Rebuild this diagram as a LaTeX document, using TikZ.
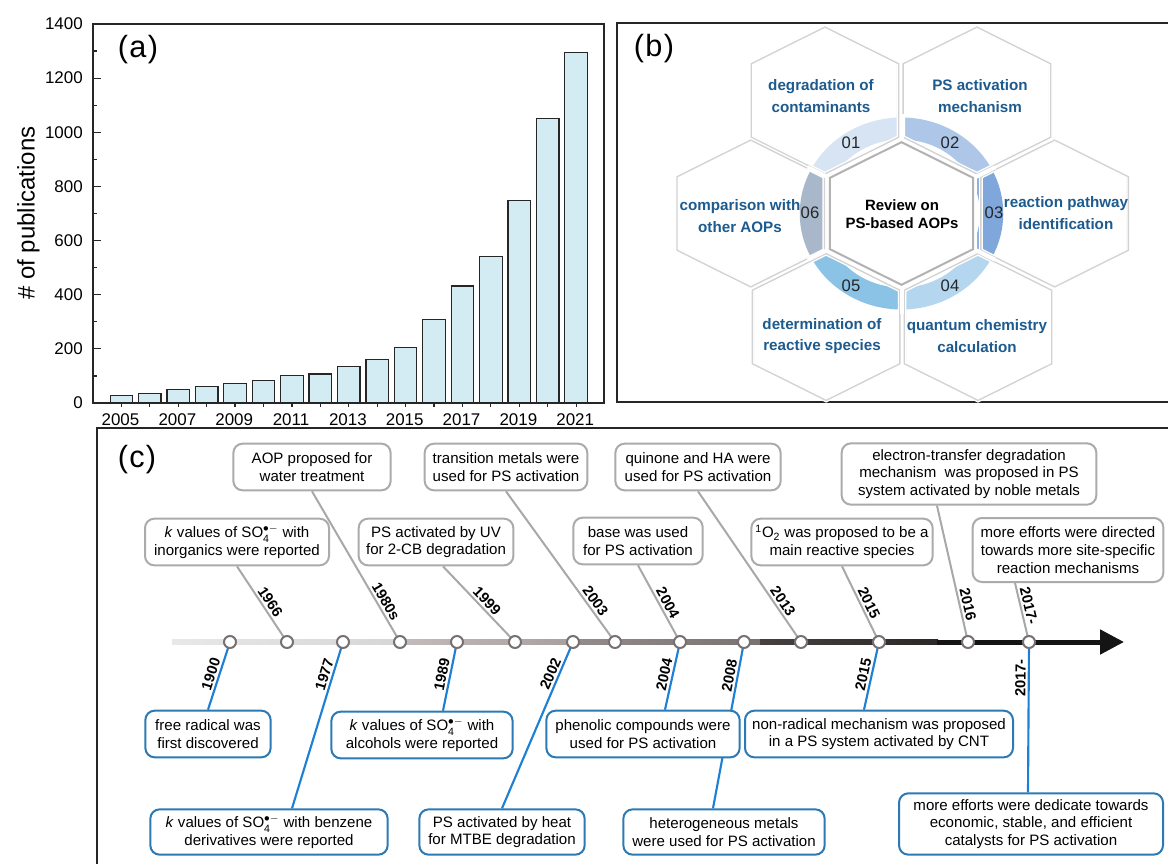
\documentclass[tikz,border=0pt]{standalone}
\usepackage{fontspec}
\setmainfont{Liberation Sans}
\usepackage{amsmath}
\usetikzlibrary{shapes.geometric, arrows.meta, positioning, backgrounds, shadows}

\definecolor{barfill}{HTML}{D3EBF3}
\definecolor{hexblue}{HTML}{1D5B8E}
\definecolor{seg01}{HTML}{D6E4F4}
\definecolor{seg02}{HTML}{AEC7E8}
\definecolor{seg03}{HTML}{7FA7DB}
\definecolor{seg04}{HTML}{B5D6EF}
\definecolor{seg05}{HTML}{8BC3E7}
\definecolor{seg06}{HTML}{A8B7CA}
\definecolor{boxgray}{HTML}{ABABAB}
\definecolor{boxblue}{HTML}{2B79B5}
\definecolor{linkgray}{HTML}{A8A8A8}
\definecolor{linkblue}{HTML}{1E80D4}
\definecolor{dotgray}{HTML}{777171}

\newcommand{\sofour}{SO$_{\text{4}}^{\bullet-}$}

\begin{document}
\begin{tikzpicture}[
    x=0.75pt, y=-0.75pt,
    >=Stealth,
    txt/.style={font=\fontsize{11.3}{13.3}\selectfont},
    tick/.style={font=\fontsize{12.7}{14}\selectfont},
    panel/.style={font=\fontsize{23}{25}\selectfont},
    bar/.style={draw=black!85, line width=0.9pt, fill=barfill},
    frame/.style={draw=black!85, line width=1.2pt},
    hexcell/.style={regular polygon, regular polygon sides=6, shape border rotate=30, minimum size=108.75pt, inner sep=0pt, draw=gray!30, line width=1.2pt, fill=white, drop shadow={shadow xshift=1.2pt, shadow yshift=-1.2pt, opacity=0.2}},
    hexline/.style={draw=gray!35, line width=1pt, preaction={draw=white, line width=3pt}},
    hubcell/.style={regular polygon, regular polygon sides=6, shape border rotate=30, minimum size=107pt, inner sep=0pt, draw=gray!60, line width=1.5pt, fill=white, preaction={draw=white, line width=6pt}},
    hexlabel/.style={align=center, text=hexblue, font=\fontsize{11.4}{16.3}\selectfont\bfseries},
    segnum/.style={font=\fontsize{12.5}{14}\selectfont, text=black!85},
    dot/.style={circle, draw=dotgray, line width=1.5pt, fill=white, minimum size=9pt, inner sep=0pt},
    topbox/.style={rectangle, draw=boxgray, line width=1.5pt, rounded corners=7pt, fill=white, align=center, txt, minimum height=35pt, inner xsep=3pt, inner ysep=3pt},
    botbox/.style={topbox, draw=boxblue},
    toplink/.style={draw=linkgray, line width=1.5pt},
    botlink/.style={draw=linkblue, line width=1.6pt},
    yr/.style={sloped, above, inner sep=1.5pt, font=\fontsize{11}{12}\selectfont\bfseries}
]
\useasboundingbox (0,0) rectangle (1168,864);
\clip (0,0) rectangle (1168,864);

% (a) publications per year
\foreach \val [count=\i from 0] in {28,36,50,62,72,83,102,107,135,161,204,309,432,540,747,1051,1295}
  \draw[bar] ({110.15+28.42*\i},403) rectangle ({132.65+28.42*\i},{403-0.2707*\val});
\draw[frame] (93,24) rectangle (604,403);
\foreach \val in {0,200,...,1400}
  \draw[frame, line width=0.9pt] (93,{403-0.2707*\val}) -- (100.5,{403-0.2707*\val});
\foreach \val in {0,200,...,1400}
  \node[tick, left, inner sep=7.5pt] (ytick\val) at (93,{403-0.2707*\val}) {\val};
\foreach \val in {100,300,...,1300}
  \draw[frame, line width=0.9pt] (93,{403-0.2707*\val}) -- (96.5,{403-0.2707*\val});
\foreach \i in {0,...,16}
  \draw[frame, line width=0.9pt] ({121.4+28.42*\i},403) -- ({121.4+28.42*\i},406.5);
\foreach \yr [count=\i from 0] in {2005,2007,...,2021}
  \node[tick] (yr\yr) at ({120.5+56.84*\i},420) {\yr};
\node[font=\fontsize{18}{20}\selectfont, rotate=90] (ylab) at (28.5,213) {\# of publications};
\node[panel] (pa) at (138,50) {(\kern1pt a\kern1pt)};

% (b) review topics
\draw[frame, line width=1.5pt] (617,23) rectangle (1180,402);
\node[panel] (pb) at (654,49) {(\kern1pt b\kern1pt)};
\begin{scope}[shift={(901.5,213.5)}, xscale=1.16, transform shape]
  \node[hexcell] (hTL) at (-66,-113) {};
  \node[hexcell] (hTR) at (65,-113) {};
  \node[hexcell] (hR) at (132,0) {};
  \node[hexcell] (hBR) at (66,113.5) {};
  \node[hexcell] (hBL) at (-65,113.5) {};
  \node[hexcell] (hL) at (-130,0) {};
\end{scope}
\begin{scope}[shift={(901.5,213.5)}, xscale=1.06, yscale=-1]
  \foreach \a/\b/\c in {90/152.4/seg01,27.6/90/seg02,-27.6/27.6/seg03,-90/-27.6/seg04,-152.4/-90/seg05,152.4/207.6/seg06}
    \fill[\c] (\a:74) arc[start angle=\a, end angle=\b, radius=74] -- (\b:96) arc[start angle=\b, end angle=\a, radius=96] -- cycle;
\end{scope}
\foreach \h in {hTL,hTR,hR,hBR,hBL,hL}
  \draw[hexline] (\h.corner 1) -- (\h.corner 2) -- (\h.corner 3) -- (\h.corner 4) -- (\h.corner 5) -- (\h.corner 6) -- cycle;
\begin{scope}[shift={(901.5,213.5)}, xscale=1.06, yscale=-1]
  \foreach \a in {90,27.6,-27.6,-90,-152.4,152.4}
    \draw[white, line width=3pt] (0,0) -- (\a:100);
\end{scope}
\begin{scope}[shift={(901.5,213.5)}, xscale=1.16, transform shape]
  \node[hubcell] (hub) at (0,0) {};
\end{scope}
\node[align=center, font=\fontsize{11.2}{13.8}\selectfont\bfseries] (hubtext) at (902,214) {Review on\\PS-based AOPs};
\node[segnum] (n01) at (851,143) {01};
\node[segnum] (n02) at (950,143) {02};
\node[segnum] (n03) at (994,213) {03};
\node[segnum] (n04) at (950,286) {04};
\node[segnum] (n05) at (851,286) {05};
\node[segnum] (n06) at (810,213) {06};
\node[hexlabel] (lTL) at (821,96) {degradation of\\contaminants};
\node[hexlabel] (lTR) at (980,96) {PS activation\\mechanism};
\node[hexlabel] (lR) at (1066,213) {reaction pathway\\identification};
\node[hexlabel] (lBR) at (977,336) {quantum chemistry\\calculation};
\node[hexlabel] (lBL) at (822,336) {determination of\\reactive species};
\node[hexlabel] (lL) at (740,216) {comparison with\\other AOPs};

% (c) timeline
\draw[frame, line width=1.5pt] (97,428) rectangle (1180,880);
\node[panel] (pc) at (137,460) {(\kern1pt c\kern1pt)};

% Dots
\node[dot] (d1900) at (230,642) {};
\node[dot] (d1966) at (287,642) {};
\node[dot] (d1977) at (343,642) {};
\node[dot] (d1980) at (400,642) {};
\node[dot] (d1989) at (457,642) {};
\node[dot] (d1999) at (515,642) {};
\node[dot] (d2002) at (573,642) {};
\node[dot] (d2003) at (615,642) {};
\node[dot] (d2004) at (680,642) {};
\node[dot] (d2008) at (744,642) {};
\node[dot] (d2013) at (801,642) {};
\node[dot] (d2015) at (879,642) {};
\node[dot] (d2016) at (968,642) {};
\node[dot] (d2017) at (1029,642) {};

% Upper boxes
\node[topbox, minimum width=138pt] (t1) at (237,542) {\textit{k} values of \sofour{} with\\inorganics were reported};
\node[topbox, minimum width=118pt] (t2) at (312,467) {AOP proposed for\\water treatment};
\node[topbox, minimum width=116pt] (t3) at (436,542) {PS activated by UV\\for 2-CB degradation};
\node[topbox, minimum width=122pt] (t4) at (506,467) {transition metals were\\used for PS activation};
\node[topbox, minimum width=97pt] (t5) at (638,541) {base was used\\for PS activation};
\node[topbox, minimum width=124pt] (t6) at (698,467) {quinone and HA were\\used for PS activation};
\node[topbox, minimum width=136pt] (t7) at (842,542) {\textsuperscript{1}O\textsubscript{2} was proposed to be a\\main reactive species};
\node[topbox, minimum width=191pt, minimum height=46pt] (t8) at (969,474) {electron-transfer degradation\\mechanism\ \ was proposed in PS\\system activated by noble metals};
\node[topbox, minimum width=143pt, minimum height=48pt] (t9) at (1068,550) {more efforts were directed\\towards more site-specific\\reaction mechanisms};

% Lower boxes
\node[botbox, minimum width=94pt] (b1) at (208,734) {free radical was\\first discovered};
\node[botbox, minimum width=178pt, minimum height=34pt] (b2) at (269,832) {\textit{k} values of \sofour{} with benzene\\derivatives were reported};
\node[botbox, minimum width=136pt] (b3) at (422,735) {\textit{k} values of \sofour{} with\\alcohols were reported};
\node[botbox, minimum width=124pt, minimum height=34pt] (b4) at (502,832) {PS activated by heat\\for MTBE degradation};
\node[botbox, minimum width=145pt] (b5) at (643,734) {phenolic compounds were\\used for PS activation};
\node[botbox, minimum width=151pt, minimum height=34pt] (b6) at (724,832) {heterogeneous metals\\were used for PS activation};
\node[botbox, minimum width=201pt] (b7) at (879,734) {non-radical mechanism was proposed\\in a PS system activated by CNT};
\node[botbox, minimum width=198pt, minimum height=46pt] (b8) at (1031,824) {more efforts were dedicate towards\\economic, stable, and efficient\\catalysts for PS activation};

\begin{scope}[on background layer]
  % Axis
  \shade[left color=gray!18, right color=gray!32] (172,639.5) rectangle (397,644.5);
  \shade[left color={rgb,255:red,196;green,188;blue,188}, right color={rgb,255:red,168;green,160;blue,160}] (397,639.5) rectangle (572,644.5);
  \shade[left color={rgb,255:red,148;green,140;blue,140}, right color={rgb,255:red,120;green,114;blue,114}] (572,639.5) rectangle (760,644.5);
  \shade[left color={rgb,255:red,70;green,64;blue,64}, right color={rgb,255:red,44;green,40;blue,40}] (760,639.5) rectangle (938,644.5);
  \draw[line width=3.75pt, black!92, -{Triangle[length=18pt, width=18pt]}] (937,642) -- (1124,642);

  % Upper links
  \draw[toplink] (t1.south) -- (d1966.center) node[yr, pos=0.53] {1966};
  \draw[toplink] (t2.south) -- (d1980.center) node[yr, pos=0.76] {1980s};
  \draw[toplink] (443,0 |- t3.south) -- (d1999.center) node[yr, pos=0.53] {1999};
  \draw[toplink] (t4.south) -- (d2003.center) node[yr, pos=0.76] {2003};
  \draw[toplink] (t5.south) -- (d2004.center) node[yr, pos=0.54] {2004};
  \draw[toplink] (t6.south) -- (d2013.center) node[yr, pos=0.76] {2013};
  \draw[toplink] (t7.south) -- (d2015.center) node[yr, pos=0.53] {2015};
  \draw[toplink] (937,0 |- t8.south) -- (d2016.center) node[yr, pos=0.74] {2016};
  \draw[toplink] (1015,0 |- t9.south) -- (d2017.center) node[yr, pos=0.42] {2017-};

  % Lower links
  \draw[botlink] (b1.north) -- (d1900.center) node[yr, pos=0.49] {1900};
  \draw[botlink] (292,0 |- b2.north) -- (d1977.center) node[yr, pos=0.79] {1977};
  \draw[botlink] (443,0 |- b3.north) -- (d1989.center) node[yr, pos=0.5] {1989};
  \draw[botlink] (b4.north) -- (d2002.center) node[yr, pos=0.79] {2002};
  \draw[botlink] (665,0 |- b5.north) -- (d2004.center) node[yr, pos=0.49] {2004};
  \draw[botlink] (713,0 |- b6.north) -- (d2008.center) node[yr, pos=0.79] {2008};
  \draw[botlink] (864,0 |- b7.north) -- (d2015.center) node[yr, pos=0.49] {2015};
  \draw[botlink] (1028,0 |- b8.north) -- (d2017.center) node[yr, pos=0.76] {2017-};
\end{scope}
\end{tikzpicture}
\end{document}
